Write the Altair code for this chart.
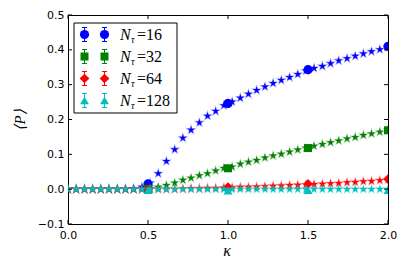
import altair as alt
import pandas as pd
import numpy as np

# ---------------- data ----------------
kappa = [0.0, 0.051, 0.103, 0.154, 0.205, 0.256, 0.308, 0.359, 0.410, 0.462,
         0.513, 0.564, 0.615, 0.667, 0.718, 0.769, 0.821, 0.872, 0.923, 0.974,
         1.026, 1.077, 1.128, 1.179, 1.231, 1.282, 1.333, 1.385, 1.436, 1.487,
         1.538, 1.590, 1.641, 1.692, 1.744, 1.795, 1.846, 1.897, 1.949, 2.0]

star_16 = [0.0, 0.0, 0.0, 0.0, 0.0, 0.0, 0.0, 0.0, 0.001, 0.006,
           0.018, 0.045, 0.080, 0.114, 0.147, 0.170, 0.191, 0.210, 0.224, 0.240,
           0.251, 0.262, 0.273, 0.284, 0.294, 0.304, 0.313, 0.321, 0.330, 0.340,
           0.347, 0.353, 0.361, 0.369, 0.375, 0.382, 0.389, 0.395, 0.401, 0.408]
star_32 = [0.0, 0.0, 0.0, 0.0, 0.0, 0.0, 0.0, 0.0, 0.0, 0.0,
           0.002, 0.006, 0.011, 0.018, 0.026, 0.032, 0.039, 0.045, 0.053, 0.060,
           0.064, 0.072, 0.078, 0.083, 0.090, 0.096, 0.101, 0.107, 0.113, 0.118,
           0.124, 0.129, 0.134, 0.139, 0.145, 0.149, 0.155, 0.159, 0.164, 0.170]
star_64 = [0.0, 0.0, 0.0, 0.0, 0.0, 0.0, 0.0, 0.0, 0.0, 0.0,
           0.0, 0.0, 0.0, 0.0, 0.001, 0.002, 0.002, 0.003, 0.003, 0.004,
           0.005, 0.006, 0.006, 0.007, 0.008, 0.009, 0.010, 0.011, 0.012, 0.013,
           0.014, 0.015, 0.016, 0.017, 0.019, 0.020, 0.022, 0.023, 0.025, 0.027]
star_128 = [0.0] * 40

kappa_pts = [0.5, 1.0, 1.5, 2.0]
pts_16 = [0.015, 0.246, 0.343, 0.410]
pts_32 = [0.001, 0.060, 0.118, 0.169]
pts_64 = [-0.001, 0.006, 0.015, 0.029]
pts_128 = [-0.003, -0.004, -0.003, -0.003]
err_16 = [0.004, 0.003, 0.003, 0.002]
err_32 = [0.003, 0.002, 0.002, 0.002]
err_64 = [0.004, 0.002, 0.002, 0.002]
err_128 = [0.002, 0.001, 0.001, 0.001]

labels = ["=16", "=32", "=64", "=128"]
colors = ["#0000ff", "#008000", "#ff0000", "#00bfbf"]
shapes = ["circle", "square", "diamond", "triangle-up"]
sizes = [85, 64, 95, 80]

x_ticks = [0.0, 0.5, 1.0, 1.5, 2.0]
y_ticks = [-0.1, 0.0, 0.1, 0.2, 0.3, 0.4, 0.5]

# ---------------- geometry / style ----------------
W, H = 320, 209
ang = np.deg2rad(np.arange(10) * 36 - 90)
rad = np.where(np.arange(10) % 2 == 0, 1.0, 0.382)
star_path = "M" + "L".join(f"{r*np.cos(a):.3f},{r*np.sin(a):.3f}" for r, a in zip(rad, ang)) + "Z"

xs = alt.Scale(domain=[0, 2], nice=False, zero=False)
ys = alt.Scale(domain=[-0.1, 0.5], nice=False, zero=False)
x_axis = alt.Axis(values=x_ticks, format=".1f", title=None, labelPadding=5)
y_axis = alt.Axis(values=y_ticks, format=".1f", title=None, labelPadding=4)

star_series = [star_16, star_32, star_64, star_128]
pt_series = [pts_16, pts_32, pts_64, pts_128]
err_series = [err_16, err_32, err_64, err_128]


def X(f):
    return alt.X(f, scale=xs, axis=x_axis)


def Y(f):
    return alt.Y(f, scale=ys, axis=y_axis)


layers = []
for i in range(4):
    sdf = pd.DataFrame({"k": kappa, "v": star_series[i]})
    layers.append(
        alt.Chart(sdf).mark_point(shape=star_path, filled=True, size=64, color=colors[i],
                                  stroke=colors[i], strokeOpacity=0.35, strokeWidth=1.2,
                                  opacity=1, clip=True)
        .encode(x=X("k:Q"), y=Y("v:Q"))
    )
    pdf = pd.DataFrame({"k": kappa_pts, "v": pt_series[i], "e": err_series[i]})
    pdf["lo"] = pdf["v"] - pdf["e"]
    pdf["hi"] = pdf["v"] + pdf["e"]
    layers.append(
        alt.Chart(pdf).mark_rule(color=colors[i], strokeWidth=1, clip=True)
        .encode(x=X("k:Q"), y=Y("lo:Q"), y2="hi:Q")
    )
    layers.append(
        alt.Chart(pdf).mark_point(shape=shapes[i], filled=True, size=sizes[i], color=colors[i],
                                  opacity=1, clip=True)
        .encode(x=X("k:Q"), y=Y("v:Q"))
    )

# inward ticks on all four sides
xt = pd.DataFrame({"t": x_ticks})
yt = pd.DataFrame({"t": y_ticks})
tl = 4
layers.append(alt.Chart(xt).mark_rule(color="black", strokeWidth=1)
              .encode(x=X("t:Q"), y=alt.value(0), y2=alt.value(tl)))
layers.append(alt.Chart(xt).mark_rule(color="black", strokeWidth=1)
              .encode(x=X("t:Q"), y=alt.value(H), y2=alt.value(H - tl)))
layers.append(alt.Chart(yt).mark_rule(color="black", strokeWidth=1)
              .encode(y=Y("t:Q"), x=alt.value(0), x2=alt.value(tl)))
layers.append(alt.Chart(yt).mark_rule(color="black", strokeWidth=1)
              .encode(y=Y("t:Q"), x=alt.value(W), x2=alt.value(W - tl)))

# legend
one = pd.DataFrame({"a": [0]})
layers.append(alt.Chart(one).mark_rect(fill="white", stroke="black", strokeWidth=1)
              .encode(x=alt.value(6), x2=alt.value(109), y=alt.value(8), y2=alt.value(98)))
row0, dy = 19.5, 22.0
mx = [16.5, 36.5]
for i in range(4):
    yy = row0 + dy * i
    for xx in mx:
        layers.append(alt.Chart(one).mark_rule(color=colors[i], strokeWidth=1)
                      .encode(x=alt.value(xx), y=alt.value(yy - 7), y2=alt.value(yy + 7)))
        for cy in (yy - 7, yy + 7):
            layers.append(alt.Chart(one).mark_rule(color=colors[i], strokeWidth=1)
                          .encode(x=alt.value(xx - 2.5), x2=alt.value(xx + 2.5), y=alt.value(cy)))
        layers.append(alt.Chart(one).mark_point(shape=shapes[i], filled=True, size=sizes[i],
                                                color=colors[i], opacity=1)
                      .encode(x=alt.value(xx), y=alt.value(yy)))
    layers.append(alt.Chart(one).mark_text(text="N", font="Liberation Serif", fontStyle="italic",
                                           fontSize=16, align="left", baseline="alphabetic",
                                           color="black")
                  .encode(x=alt.value(52), y=alt.value(yy + 5)))
    layers.append(alt.Chart(one).mark_text(text="τ", font="Liberation Serif", fontStyle="italic",
                                           fontSize=10, align="left", baseline="alphabetic",
                                           color="black")
                  .encode(x=alt.value(63), y=alt.value(yy + 8)))
    layers.append(alt.Chart(one).mark_text(text=labels[i], font="Liberation Serif",
                                           fontSize=16, align="left", baseline="alphabetic",
                                           color="black")
                  .encode(x=alt.value(69), y=alt.value(yy + 5)))

# axis titles
layers.append(alt.Chart(one).mark_text(text="⟨P⟩", font="Liberation Serif", fontStyle="italic",
                                       fontSize=15, angle=270, align="center", baseline="middle",
                                       color="black")
              .encode(x=alt.value(-48), y=alt.value(105)))
layers.append(alt.Chart(one).mark_text(text="κ", font="Liberation Serif", fontStyle="italic",
                                       fontSize=16, align="center", baseline="middle",
                                       color="black")
              .encode(x=alt.value(159), y=alt.value(236)))

chart = alt.layer(*layers).properties(
    width=W, height=H,
    autosize=alt.AutoSizeParams(type="none"),
    padding={"left": 60, "top": 7, "right": 11, "bottom": 40},
    background="white",
).configure_view(stroke="black", strokeWidth=1).configure_axis(
    ticks=False, domain=False, grid=False, labelFont="DejaVu Sans", labelFontSize=11,
    labelColor="black", labelFlush=False, labelOverlap=False, labelBound=False,
)

chart.save("out.html", embed_options={"renderer": "svg", "actions": False})
